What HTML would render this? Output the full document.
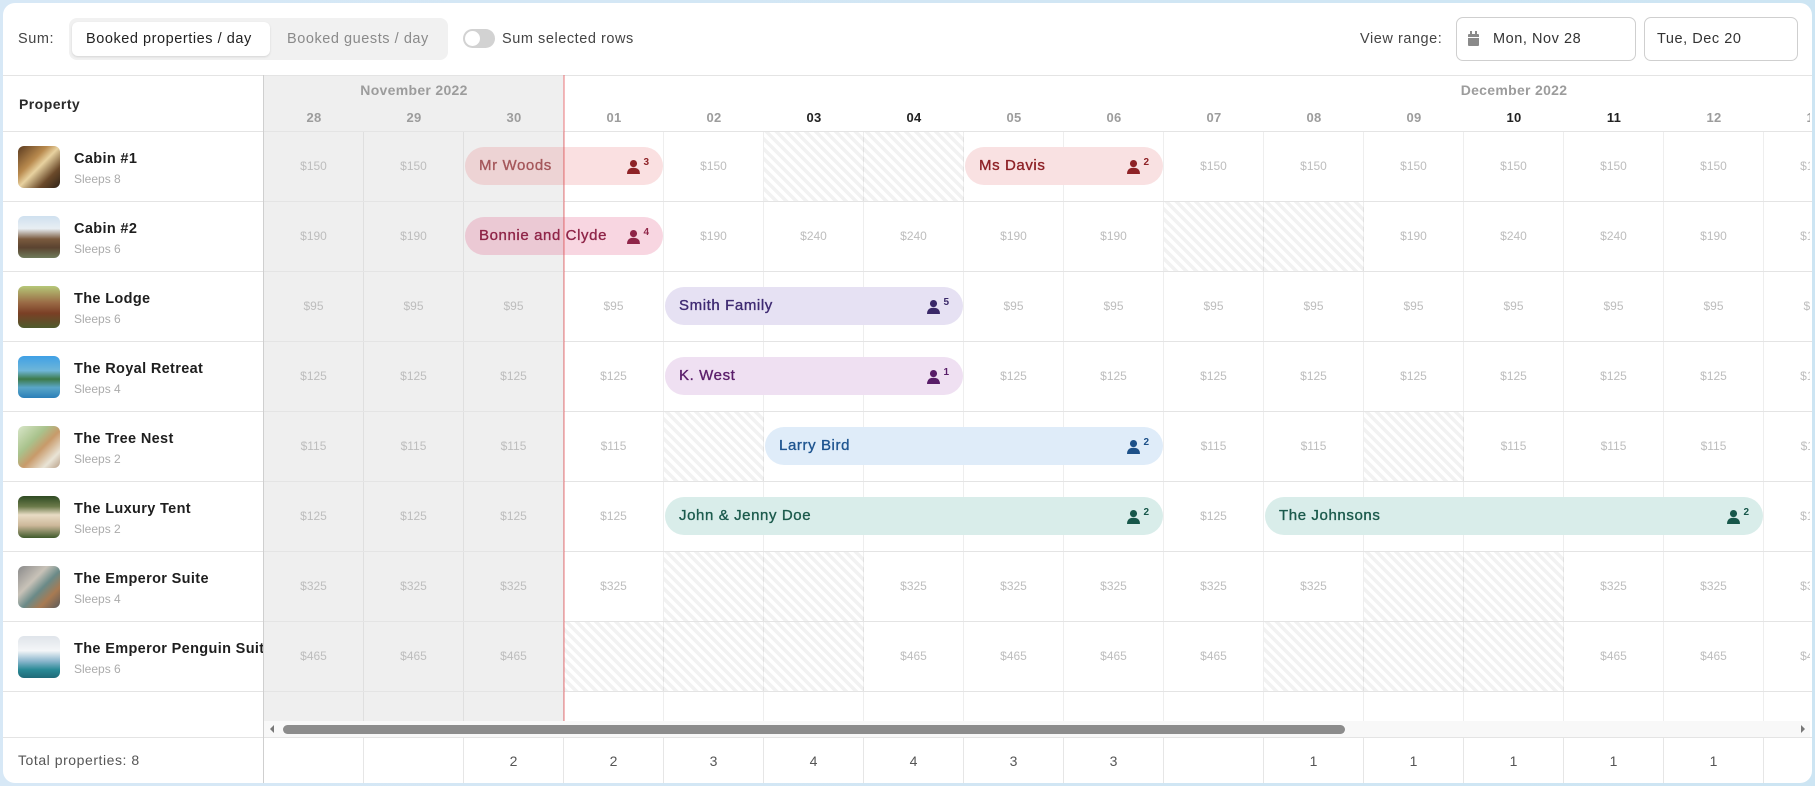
<!DOCTYPE html>
<html><head><meta charset="utf-8">
<style>
*{box-sizing:border-box}
html,body{margin:0;padding:0}
body{width:1815px;height:786px;overflow:hidden;background:linear-gradient(90deg,#d7e8f6,#cde5f3);font-family:"Liberation Sans",Arial,sans-serif;position:relative}
.a{position:absolute}
#card{position:absolute;left:3px;top:3px;width:1809px;height:780px;background:#fff;border-radius:12px}
.t{position:absolute;white-space:nowrap}
.tb{font-size:14.5px;letter-spacing:0.55px;top:31px}
#g{position:absolute;left:264px;top:75px;width:1546px;height:646px;overflow:hidden}
.r{position:absolute;left:0;width:1600px;height:70px;display:grid;grid-template-columns:repeat(16,100px)}
.r>div{border-right:1px solid rgba(0,0,0,0.065);display:flex;align-items:center;justify-content:center;font-size:12px;color:#bdbdbd}
.s{background:repeating-linear-gradient(45deg,#f2f2f2 0 3.5px,rgba(255,255,255,0) 3.5px 7px)}
.hl{position:absolute;left:3px;width:1809px;height:1px;background:#e4e4e4;z-index:3}
.d{position:absolute;top:35px;width:100px;text-align:center;font-size:13px;font-weight:bold;color:#9c9c9c;letter-spacing:0.3px}
.d.k{color:#222}
.p{position:absolute;height:38px;border-radius:19px;padding-left:14px;line-height:38px;font-size:15px;letter-spacing:0.6px;-webkit-text-stroke:0.35px currentColor;white-space:nowrap;z-index:4}
.g{position:absolute;right:14px;top:12px;height:15px;display:flex;align-items:flex-start;-webkit-text-stroke:0;letter-spacing:0}
.g svg{display:block;margin-top:1px}
.g b{font-size:10px;line-height:10px;margin-left:3px;margin-top:-1px}
.pr{position:absolute;left:3px;width:260px;height:70px;overflow:hidden}
.th{position:absolute;left:15px;top:15px;width:42px;height:42px;border-radius:6px;overflow:hidden}
.nm{position:absolute;left:71px;top:20px;font-size:14.5px;font-weight:bold;color:#1e1e1e;white-space:nowrap;letter-spacing:0.35px}
.sl{position:absolute;left:71px;top:41px;font-size:12px;color:#ababab;white-space:nowrap}
#f{position:absolute;left:264px;top:738px;width:1546px;height:45px;overflow:hidden}
#f .r{height:45px}
#f .r>div{border-right:1px solid #e6e6e6;font-size:14px;color:#555}
</style></head><body>
<div id="card"></div>

<!-- toolbar -->
<div class="t tb" style="left:18px;color:#444">Sum:</div>
<div class="a" style="left:69px;top:18px;width:379px;height:42px;background:#f1f1f1;border-radius:8px"></div>
<div class="a" style="left:72px;top:22px;width:198px;height:34px;background:#fff;border-radius:6px;box-shadow:0 1px 2px rgba(0,0,0,0.12)"></div>
<div class="t tb" style="left:86px;color:#222">Booked properties / day</div>
<div class="t tb" style="left:287px;color:#8a8a8a">Booked guests / day</div>
<div class="a" style="left:463px;top:29px;width:32px;height:19px;border-radius:10px;background:#d2d2d2"></div>
<div class="a" style="left:465px;top:31px;width:15px;height:15px;border-radius:50%;background:#fff"></div>
<div class="t tb" style="left:502px;color:#444">Sum selected rows</div>
<div class="t tb" style="left:1360px;color:#444">View range:</div>
<div class="a" style="left:1456px;top:17px;width:180px;height:44px;border:1px solid #cfcfcf;border-radius:7px"></div>
<div class="a" style="left:1468px;top:34px;width:11px;height:12px;background:#8a8a8a;border-radius:1px"></div>
<div class="a" style="left:1470px;top:31px;width:2px;height:4px;background:#8a8a8a"></div>
<div class="a" style="left:1475px;top:31px;width:2px;height:4px;background:#8a8a8a"></div>
<div class="a" style="left:1468px;top:37px;width:11px;height:1px;background:#fff"></div>
<div class="t tb" style="left:1493px;color:#333">Mon, Nov 28</div>
<div class="a" style="left:1644px;top:17px;width:154px;height:44px;border:1px solid #cfcfcf;border-radius:7px"></div>
<div class="t tb" style="left:1657px;color:#333">Tue, Dec 20</div>

<!-- lines -->
<div class="hl" style="top:75px"></div>
<div class="hl" style="top:131px"></div>
<div class="hl" style="top:201px"></div>
<div class="hl" style="top:271px"></div>
<div class="hl" style="top:341px"></div>
<div class="hl" style="top:411px"></div>
<div class="hl" style="top:481px"></div>
<div class="hl" style="top:551px"></div>
<div class="hl" style="top:621px"></div>
<div class="hl" style="top:691px"></div>
<div class="hl" style="top:737px"></div>
<div class="a" style="left:263px;top:75px;width:1px;height:708px;background:#cfcfcf;z-index:5"></div>

<!-- property column -->
<div class="t" style="left:19px;top:96px;font-size:14px;font-weight:bold;color:#2a2a2a;letter-spacing:0.45px">Property</div>

<div class="pr" style="top:131px"><div class="th" style="background:linear-gradient(135deg,#5a3a1f 0%,#b98a4e 35%,#e8d2a0 50%,#6b4a2a 75%,#2e2216 100%)"></div><div class="nm">Cabin #1</div><div class="sl">Sleeps 8</div></div>
<div class="pr" style="top:201px"><div class="th" style="background:linear-gradient(180deg,#cfe0ef 0%,#e8eef3 30%,#7a5a3e 55%,#5b4330 75%,#6f7a5a 100%)"></div><div class="nm">Cabin #2</div><div class="sl">Sleeps 6</div></div>
<div class="pr" style="top:271px"><div class="th" style="background:linear-gradient(180deg,#b6c878 0%,#9a6a45 40%,#7a3f25 65%,#4d5a2c 100%)"></div><div class="nm">The Lodge</div><div class="sl">Sleeps 6</div></div>
<div class="pr" style="top:341px"><div class="th" style="background:linear-gradient(180deg,#3fa0e6 0%,#6fb6d8 35%,#3d7a4a 55%,#5aa6c8 75%,#2b7fb8 100%)"></div><div class="nm">The Royal Retreat</div><div class="sl">Sleeps 4</div></div>
<div class="pr" style="top:411px"><div class="th" style="background:linear-gradient(135deg,#d8e6c8 0%,#a9c28c 35%,#c89a6a 55%,#e9e4d6 80%,#b8a088 100%)"></div><div class="nm">The Tree Nest</div><div class="sl">Sleeps 2</div></div>
<div class="pr" style="top:481px"><div class="th" style="background:linear-gradient(180deg,#2e4a22 0%,#6b7a4a 25%,#e8dcc4 45%,#cdb89a 70%,#3f5a2c 100%)"></div><div class="nm">The Luxury Tent</div><div class="sl">Sleeps 2</div></div>
<div class="pr" style="top:551px"><div class="th" style="background:linear-gradient(135deg,#8a8a8a 0%,#c8c2b8 35%,#6a8a88 55%,#a87a52 75%,#5a5a5a 100%)"></div><div class="nm">The Emperor Suite</div><div class="sl">Sleeps 4</div></div>
<div class="pr" style="top:621px"><div class="th" style="background:linear-gradient(180deg,#dfe4ea 0%,#f4f6f8 35%,#8ab6cc 60%,#2a8a96 80%,#1f6a78 100%)"></div><div class="nm">The Emperor Penguin Suite</div><div class="sl">Sleeps 6</div></div>

<div class="t" style="left:18px;top:752px;font-size:14px;color:#555;letter-spacing:0.55px">Total properties: 8</div>

<!-- grid -->
<div id="g">
<div class="a" style="left:0;top:0;width:300px;height:646px;background:#efefef"></div>
<div class="t" style="left:0;top:7px;width:300px;text-align:center;font-size:14px;font-weight:bold;color:#9c9c9c;letter-spacing:0.3px">November 2022</div>
<div class="t" style="left:1200px;top:7px;width:100px;text-align:center;font-size:14px;font-weight:bold;color:#9c9c9c;overflow:visible;display:flex;justify-content:center;letter-spacing:0.3px">December 2022</div>
<div class="d" style="left:0">28</div>
<div class="d" style="left:100px">29</div>
<div class="d" style="left:200px">30</div>
<div class="d" style="left:300px">01</div>
<div class="d" style="left:400px">02</div>
<div class="d k" style="left:500px">03</div>
<div class="d k" style="left:600px">04</div>
<div class="d" style="left:700px">05</div>
<div class="d" style="left:800px">06</div>
<div class="d" style="left:900px">07</div>
<div class="d" style="left:1000px">08</div>
<div class="d" style="left:1100px">09</div>
<div class="d k" style="left:1200px">10</div>
<div class="d k" style="left:1300px">11</div>
<div class="d" style="left:1400px">12</div>
<div class="d" style="left:1500px">13</div>

<div class="r" style="top:56px"><div>$150</div><div>$150</div><div></div><div></div><div>$150</div><div class="s"></div><div class="s"></div><div></div><div></div><div>$150</div><div>$150</div><div>$150</div><div>$150</div><div>$150</div><div>$150</div><div>$150</div></div>
<div class="r" style="top:126px"><div>$190</div><div>$190</div><div></div><div></div><div>$190</div><div>$240</div><div>$240</div><div>$190</div><div>$190</div><div class="s"></div><div class="s"></div><div>$190</div><div>$240</div><div>$240</div><div>$190</div><div>$190</div></div>
<div class="r" style="top:196px"><div>$95</div><div>$95</div><div>$95</div><div>$95</div><div></div><div></div><div></div><div>$95</div><div>$95</div><div>$95</div><div>$95</div><div>$95</div><div>$95</div><div>$95</div><div>$95</div><div>$95</div></div>
<div class="r" style="top:266px"><div>$125</div><div>$125</div><div>$125</div><div>$125</div><div></div><div></div><div></div><div>$125</div><div>$125</div><div>$125</div><div>$125</div><div>$125</div><div>$125</div><div>$125</div><div>$125</div><div>$125</div></div>
<div class="r" style="top:336px"><div>$115</div><div>$115</div><div>$115</div><div>$115</div><div class="s"></div><div></div><div></div><div></div><div></div><div>$115</div><div>$115</div><div class="s"></div><div>$115</div><div>$115</div><div>$115</div><div>$115</div></div>
<div class="r" style="top:406px"><div>$125</div><div>$125</div><div>$125</div><div>$125</div><div></div><div></div><div></div><div></div><div></div><div>$125</div><div></div><div></div><div></div><div></div><div></div><div>$125</div></div>
<div class="r" style="top:476px"><div>$325</div><div>$325</div><div>$325</div><div>$325</div><div class="s"></div><div class="s"></div><div>$325</div><div>$325</div><div>$325</div><div>$325</div><div>$325</div><div class="s"></div><div class="s"></div><div>$325</div><div>$325</div><div>$325</div></div>
<div class="r" style="top:546px"><div>$465</div><div>$465</div><div>$465</div><div class="s"></div><div class="s"></div><div class="s"></div><div>$465</div><div>$465</div><div>$465</div><div>$465</div><div class="s"></div><div class="s"></div><div class="s"></div><div>$465</div><div>$465</div><div>$465</div></div>
<div class="r" style="top:616px;height:30px"><div></div><div></div><div></div><div></div><div></div><div></div><div></div><div></div><div></div><div></div><div></div><div></div><div></div><div></div><div></div><div></div></div>

<div class="p" style="left:201px;width:198px;top:72px;background:rgba(230,100,105,0.2);color:#a5575b">Mr Woods<span class="g" style="color:#8e2226"><svg width="13" height="14" viewBox="0 0 12 13"><circle cx="6" cy="3.3" r="3.3" fill="currentColor"/><path d="M0 13Q0 7.2 6 7.2Q12 7.2 12 13Z" fill="currentColor"/></svg><b>3</b></span></div>
<div class="p" style="left:701px;width:198px;top:72px;background:#f9e1e2;color:#8e2227">Ms Davis<span class="g" style="color:#8e2226"><svg width="13" height="14" viewBox="0 0 12 13"><circle cx="6" cy="3.3" r="3.3" fill="currentColor"/><path d="M0 13Q0 7.2 6 7.2Q12 7.2 12 13Z" fill="currentColor"/></svg><b>2</b></span></div>
<div class="p" style="left:201px;width:198px;top:142px;background:rgba(225,70,120,0.22);color:#8f2548">Bonnie and Clyde<span class="g" style="color:#8f2548"><svg width="13" height="14" viewBox="0 0 12 13"><circle cx="6" cy="3.3" r="3.3" fill="currentColor"/><path d="M0 13Q0 7.2 6 7.2Q12 7.2 12 13Z" fill="currentColor"/></svg><b>4</b></span></div>
<div class="p" style="left:401px;width:298px;top:212px;background:#e6e1f3;color:#3e2a72">Smith Family<span class="g" style="color:#3a2868"><svg width="13" height="14" viewBox="0 0 12 13"><circle cx="6" cy="3.3" r="3.3" fill="currentColor"/><path d="M0 13Q0 7.2 6 7.2Q12 7.2 12 13Z" fill="currentColor"/></svg><b>5</b></span></div>
<div class="p" style="left:401px;width:298px;top:282px;background:#efe0f2;color:#5b1f6b">K. West<span class="g" style="color:#581d68"><svg width="13" height="14" viewBox="0 0 12 13"><circle cx="6" cy="3.3" r="3.3" fill="currentColor"/><path d="M0 13Q0 7.2 6 7.2Q12 7.2 12 13Z" fill="currentColor"/></svg><b>1</b></span></div>
<div class="p" style="left:501px;width:398px;top:352px;background:#dfecf9;color:#1f5590">Larry Bird<span class="g" style="color:#1d5088"><svg width="13" height="14" viewBox="0 0 12 13"><circle cx="6" cy="3.3" r="3.3" fill="currentColor"/><path d="M0 13Q0 7.2 6 7.2Q12 7.2 12 13Z" fill="currentColor"/></svg><b>2</b></span></div>
<div class="p" style="left:401px;width:498px;top:422px;background:#d9edea;color:#1b5a4c">John &amp; Jenny Doe<span class="g" style="color:#17574a"><svg width="13" height="14" viewBox="0 0 12 13"><circle cx="6" cy="3.3" r="3.3" fill="currentColor"/><path d="M0 13Q0 7.2 6 7.2Q12 7.2 12 13Z" fill="currentColor"/></svg><b>2</b></span></div>
<div class="p" style="left:1001px;width:498px;top:422px;background:#d9edea;color:#1b5a4c">The Johnsons<span class="g" style="color:#17574a"><svg width="13" height="14" viewBox="0 0 12 13"><circle cx="6" cy="3.3" r="3.3" fill="currentColor"/><path d="M0 13Q0 7.2 6 7.2Q12 7.2 12 13Z" fill="currentColor"/></svg><b>2</b></span></div>

<div class="a" style="left:299px;top:0;width:2px;height:646px;background:rgba(232,90,95,0.42);z-index:6"></div>
</div>

<!-- scrollbar -->
<div class="a" style="left:264px;top:721px;width:1546px;height:16px;background:#f8f8f8;z-index:4"></div>
<div class="a" style="left:270px;top:725px;width:0;height:0;border-top:4px solid transparent;border-bottom:4px solid transparent;border-right:4px solid #777;z-index:5"></div>
<div class="a" style="left:283px;top:725px;width:1062px;height:9px;border-radius:5px;background:#8c8c8c;z-index:5"></div>
<div class="a" style="left:1801px;top:725px;width:0;height:0;border-top:4px solid transparent;border-bottom:4px solid transparent;border-left:4px solid #777;z-index:5"></div>

<!-- footer -->
<div id="f"><div class="r" style="top:0"><div></div><div></div><div>2</div><div>2</div><div>3</div><div>4</div><div>4</div><div>3</div><div>3</div><div></div><div>1</div><div>1</div><div>1</div><div>1</div><div>1</div><div></div></div></div>
</body></html>
